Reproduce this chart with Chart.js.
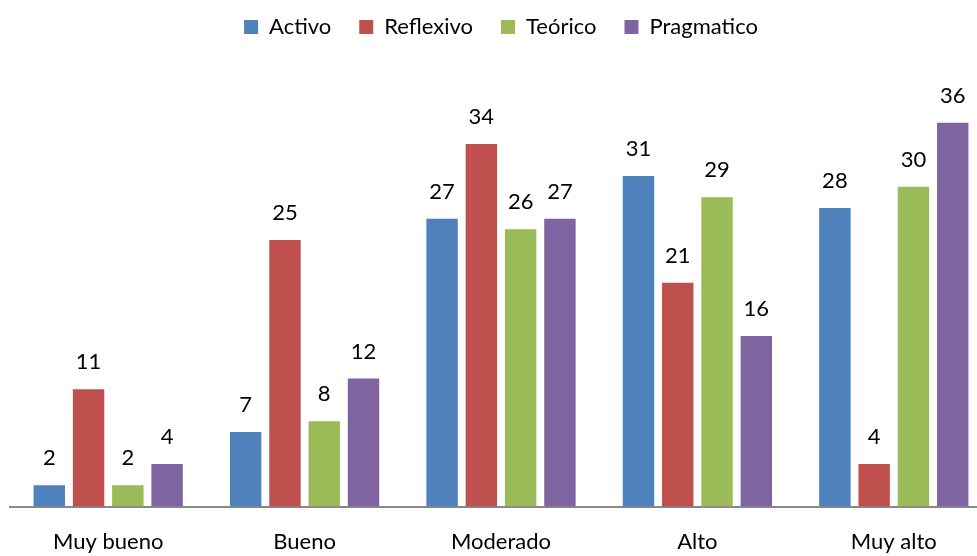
<!DOCTYPE html>
<html>
<head>
<meta charset="utf-8">
<script src="https://cdn.jsdelivr.net/npm/chart.js@4"></script>
<style>
  html, body { margin: 0; padding: 0; background: #fff; overflow: hidden; }
  #wrap { width: 977px; height: 556px; overflow: hidden; }
  #box { width: 1002px; height: 577px; }
</style>
</head>
<body>
<div id="wrap"><div id="box"><canvas id="mainChart"></canvas></div></div>
<script>
// categorias y valores
const categories = ['Muy bueno', 'Bueno', 'Moderado', 'Alto', 'Muy alto'];
const activo = [2, 7, 27, 31, 28];
const reflexivo = [11, 25, 34, 21, 4];
const teorico = [2, 8, 26, 29, 30];
const pragmatico = [4, 12, 27, 16, 36];

const FONT = 'Lato, "Open Sans", sans-serif';

// etiquetas encima de cada barra
const valueLabels = {
  id: 'valueLabels',
  afterDatasetsDraw(chart) {
    const ctx = chart.ctx;
    ctx.save();
    ctx.font = '22px ' + FONT;
    ctx.fillStyle = '#000';
    ctx.textAlign = 'center';
    ctx.textBaseline = 'middle';
    chart.data.datasets.forEach((ds, i) => {
      chart.getDatasetMeta(i).data.forEach((bar, j) => {
        ctx.fillText(ds.data[j], bar.x, bar.y - 27);
      });
    });
    ctx.restore();
  }
};

new Chart(document.getElementById('mainChart'), {
  type: 'bar',
  data: {
    labels: categories,
    datasets: [
      { label: 'Activo', data: activo, backgroundColor: '#4F81BD' },
      { label: 'Reflexivo', data: reflexivo, backgroundColor: '#C0504D' },
      { label: 'Teórico', data: teorico, backgroundColor: '#9BBB59' },
      { label: 'Pragmatico', data: pragmatico, backgroundColor: '#8064A2' }
    ]
  },
  options: {
    responsive: true,
    maintainAspectRatio: false,
    animation: false,
    layout: { padding: { left: 10, right: 10, top: -12, bottom: 0 } },
    datasets: { bar: { categoryPercentage: 0.8, barPercentage: 0.8 } },
    scales: {
      x: {
        grid: { display: false, drawTicks: false },
        border: { color: '#888', width: 2 },
        ticks: { color: '#000', font: { family: FONT, size: 22 }, padding: 22 }
      },
      y: {
        display: false,
        min: 0,
        max: 43
      }
    },
    plugins: {
      legend: {
        position: 'top',
        labels: {
          color: '#000',
          font: { family: FONT, size: 22 },
          boxWidth: 14,
          boxHeight: 14,
          padding: 28
        }
      },
      tooltip: { enabled: false }
    }
  },
  plugins: [valueLabels]
});
</script>
</body>
</html>
